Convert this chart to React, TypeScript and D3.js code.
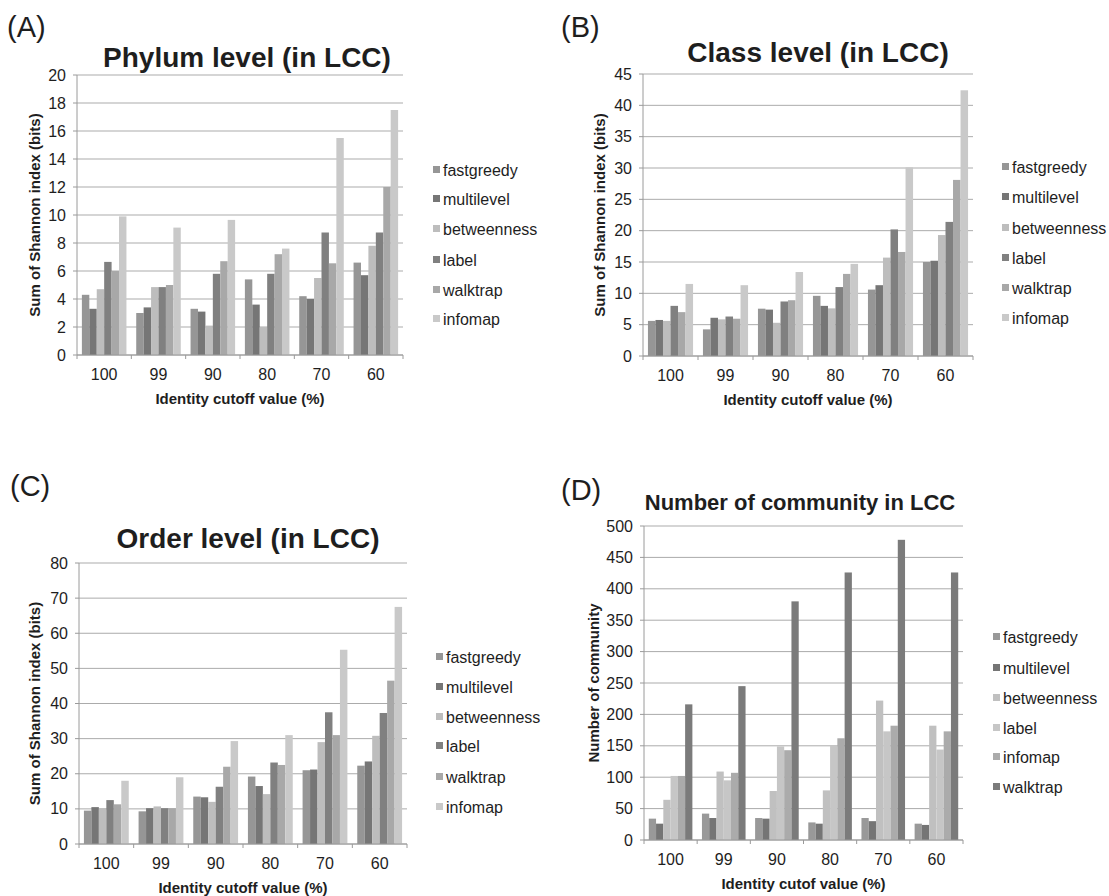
import React from "react";
import * as d3 from "d3";

// ---------- data ----------
const categories = ["100", "99", "90", "80", "70", "60"];

const seriesABC = ["fastgreedy", "multilevel", "betweenness", "label", "walktrap", "infomap"];
const seriesD = ["fastgreedy", "multilevel", "betweenness", "label", "infomap", "walktrap"];

// (A) Phylum level
const phylumFastgreedy = [4.3, 3.0, 3.3, 5.4, 4.2, 6.6];
const phylumMultilevel = [3.3, 3.4, 3.1, 3.6, 4.0, 5.7];
const phylumBetweenness = [4.7, 4.85, 2.1, 2.0, 5.5, 7.8];
const phylumLabel = [6.65, 4.85, 5.8, 5.8, 8.75, 8.75];
const phylumWalktrap = [6.0, 5.0, 6.7, 7.2, 6.55, 12.0];
const phylumInfomap = [9.9, 9.1, 9.65, 7.6, 15.5, 17.5];

// (B) Class level
const classFastgreedy = [5.6, 4.25, 7.55, 9.6, 10.6, 15.0];
const classMultilevel = [5.75, 6.1, 7.4, 8.0, 11.3, 15.2];
const classBetweenness = [5.6, 5.85, 5.3, 7.6, 15.7, 19.3];
const classLabel = [8.0, 6.3, 8.7, 11.0, 20.2, 21.4];
const classWalktrap = [7.0, 5.95, 8.9, 13.1, 16.6, 28.1];
const classInfomap = [11.5, 11.3, 13.4, 14.7, 30.1, 42.4];

// (C) Order level
const orderFastgreedy = [9.5, 9.3, 13.5, 19.2, 21.0, 22.3];
const orderMultilevel = [10.5, 10.2, 13.3, 16.5, 21.2, 23.5];
const orderBetweenness = [10.2, 10.7, 12.0, 14.2, 29.0, 30.8];
const orderLabel = [12.5, 10.2, 16.3, 23.2, 37.5, 37.3];
const orderWalktrap = [11.3, 10.2, 22.0, 22.5, 31.0, 46.5];
const orderInfomap = [18.0, 19.0, 29.3, 31.0, 55.3, 67.5];

// (D) Number of community
const commFastgreedy = [34, 42, 35, 28, 35, 26];
const commMultilevel = [26, 35, 34, 26, 30, 24];
const commBetweenness = [64, 109, 78, 79, 222, 182];
const commLabel = [102, 95, 149, 150, 173, 144];
const commInfomap = [102, 107, 143, 162, 182, 173];
const commWalktrap = [216, 245, 380, 426, 478, 426];

const yTicksA = [0, 2, 4, 6, 8, 10, 12, 14, 16, 18, 20];
const yTicksB = [0, 5, 10, 15, 20, 25, 30, 35, 40, 45];
const yTicksC = [0, 10, 20, 30, 40, 50, 60, 70, 80];
const yTicksD = [0, 50, 100, 150, 200, 250, 300, 350, 400, 450, 500];

const colorsABC = ["#969696", "#767676", "#bdbdbd", "#808080", "#a8a8a8", "#c9c9c9"];
const colorsD = ["#999999", "#757575", "#c0c0c0", "#c6c6c6", "#ababab", "#7b7b7b"];

const FONT = "'Liberation Sans', Arial, Helvetica, sans-serif";
const INK = "#1e1e1e";

type PanelProps = {
  tag: string;
  tagX: number;
  tagY: number;
  title: string;
  titleSize: number;
  titleX: number;
  titleY: number;
  yTitle: string;
  yTitleX: number;
  xTitle: string;
  left: number;
  right: number;
  top: number;
  bottom: number;
  yTicks: number[];
  series: string[];
  values: number[][];
  colors: string[];
  legendX: number;
  legendY: number[];
};

function Panel(p: PanelProps) {
  const yMax = p.yTicks[p.yTicks.length - 1];
  const y = d3.scaleLinear().domain([0, yMax]).range([p.bottom, p.top]);
  const x0 = d3
    .scaleBand<string>()
    .domain(categories)
    .range([p.left, p.right])
    .paddingInner(0.18)
    .paddingOuter(0.09);
  const x1 = d3
    .scaleBand<string>()
    .domain(p.series)
    .range([0, x0.bandwidth()])
    .padding(0);
  const step = (p.right - p.left) / categories.length;
  const boundaries = d3.range(categories.length + 1).map((i) => p.left + i * step);
  const cx = (p.left + p.right) / 2;
  const cy = (p.top + p.bottom) / 2;

  return (
    <g>
      <text x={p.tagX} y={p.tagY} fontSize={29} fill={INK} fontFamily={FONT}>
        {p.tag}
      </text>
      <text
        x={p.titleX}
        y={p.titleY}
        fontSize={p.titleSize}
        fontWeight="bold"
        textAnchor="middle"
        fill={INK}
        fontFamily={FONT}
      >
        {p.title}
      </text>
      {/* gridlines */}
      {p.yTicks.map((t) => (
        <line
          key={"g" + t}
          x1={p.left}
          x2={p.right}
          y1={y(t)}
          y2={y(t)}
          stroke="#ababab"
          strokeWidth={1}
        />
      ))}
      {/* y axis */}
      <line x1={p.left} x2={p.left} y1={p.top} y2={p.bottom} stroke="#9a9a9a" strokeWidth={1} />
      {p.yTicks.map((t) => (
        <g key={"t" + t}>
          <line x1={p.left - 4} x2={p.left} y1={y(t)} y2={y(t)} stroke="#9a9a9a" />
          <text
            x={p.left - 11}
            y={y(t)}
            dy="0.35em"
            fontSize={16}
            textAnchor="end"
            fill={INK}
            fontFamily={FONT}
          >
            {t}
          </text>
        </g>
      ))}
      {/* bars */}
      {p.series.map((s, si) => (
        <g key={s}>
          {categories.map((c, ci) => {
            const v = p.values[si][ci];
            return (
              <rect
                key={c}
                x={(x0(c) as number) + (x1(s) as number)}
                y={y(v)}
                width={x1.bandwidth()}
                height={y(0) - y(v)}
                fill={p.colors[si]}
              />
            );
          })}
        </g>
      ))}
      {/* x axis */}
      <line x1={p.left} x2={p.right} y1={p.bottom} y2={p.bottom} stroke="#9a9a9a" strokeWidth={1} />
      {boundaries.map((bx, i) => (
        <line key={"b" + i} x1={bx} x2={bx} y1={p.bottom} y2={p.bottom + 4} stroke="#9a9a9a" />
      ))}
      {categories.map((c) => (
        <text
          key={"x" + c}
          x={(x0(c) as number) + x0.bandwidth() / 2}
          y={p.bottom + 19}
          dy="0.35em"
          fontSize={16}
          textAnchor="middle"
          fill={INK}
          fontFamily={FONT}
        >
          {c}
        </text>
      ))}
      <text
        x={cx}
        y={p.bottom + 44}
        dy="0.35em"
        fontSize={15}
        fontWeight="bold"
        textAnchor="middle"
        fill={INK}
        fontFamily={FONT}
      >
        {p.xTitle}
      </text>
      <text
        transform={`translate(${p.yTitleX},${cy}) rotate(-90)`}
        dy="0.35em"
        fontSize={15}
        fontWeight="bold"
        textAnchor="middle"
        fill={INK}
        fontFamily={FONT}
      >
        {p.yTitle}
      </text>
      {/* legend */}
      {p.series.map((s, si) => (
        <g key={"l" + s}>
          <rect x={p.legendX} y={p.legendY[si] - 4} width={7} height={7} fill={p.colors[si]} />
          <text
            x={p.legendX + 10}
            y={p.legendY[si]}
            dy="0.35em"
            fontSize={16}
            fill={INK}
            fontFamily={FONT}
          >
            {s}
          </text>
        </g>
      ))}
    </g>
  );
}

export default function App() {
  return (
    <svg
      width={1109}
      height={896}
      style={{ position: "absolute", left: 0, top: 0, background: "#fff" }}
    >
      <rect width={1109} height={896} fill="#fff" />
      <Panel
        tag="(A)"
        tagX={7}
        tagY={37}
        title="Phylum level (in LCC)"
        titleSize={28}
        titleX={247}
        titleY={67}
        yTitle="Sum of Shannon index (bits)"
        yTitleX={35}
        xTitle="Identity cutoff value (%)"
        left={77}
        right={403}
        top={75}
        bottom={355}
        yTicks={yTicksA}
        series={seriesABC}
        values={[phylumFastgreedy, phylumMultilevel, phylumBetweenness, phylumLabel, phylumWalktrap, phylumInfomap]}
        colors={colorsABC}
        legendX={433}
        legendY={[170, 199, 229, 260, 290, 319]}
      />
      <Panel
        tag="(B)"
        tagX={561}
        tagY={37}
        title="Class level (in LCC)"
        titleSize={28}
        titleX={818}
        titleY={62}
        yTitle="Sum of Shannon index (bits)"
        yTitleX={600}
        xTitle="Identity cutoff value (%)"
        left={643}
        right={973}
        top={74}
        bottom={356}
        yTicks={yTicksB}
        series={seriesABC}
        values={[classFastgreedy, classMultilevel, classBetweenness, classLabel, classWalktrap, classInfomap]}
        colors={colorsABC}
        legendX={1002}
        legendY={[167, 197, 228, 258, 288, 318]}
      />
      <Panel
        tag="(C)"
        tagX={10}
        tagY={496}
        title="Order level (in LCC)"
        titleSize={28}
        titleX={248}
        titleY={548}
        yTitle="Sum of Shannon index (bits)"
        yTitleX={35}
        xTitle="Identity cutoff value (%)"
        left={79}
        right={407}
        top={563}
        bottom={844}
        yTicks={yTicksC}
        series={seriesABC}
        values={[orderFastgreedy, orderMultilevel, orderBetweenness, orderLabel, orderWalktrap, orderInfomap]}
        colors={colorsABC}
        legendX={436}
        legendY={[657, 687, 717, 746, 777, 807]}
      />
      <Panel
        tag="(D)"
        tagX={561}
        tagY={500}
        title="Number of community in LCC"
        titleSize={22}
        titleX={800}
        titleY={510}
        yTitle="Number of community"
        yTitleX={594}
        xTitle="Identity cutof value (%)"
        left={644}
        right={963}
        top={526}
        bottom={840}
        yTicks={yTicksD}
        series={seriesD}
        values={[commFastgreedy, commMultilevel, commBetweenness, commLabel, commInfomap, commWalktrap]}
        colors={colorsD}
        legendX={993}
        legendY={[637, 668, 698, 728, 757, 787]}
      />
    </svg>
  );
}
